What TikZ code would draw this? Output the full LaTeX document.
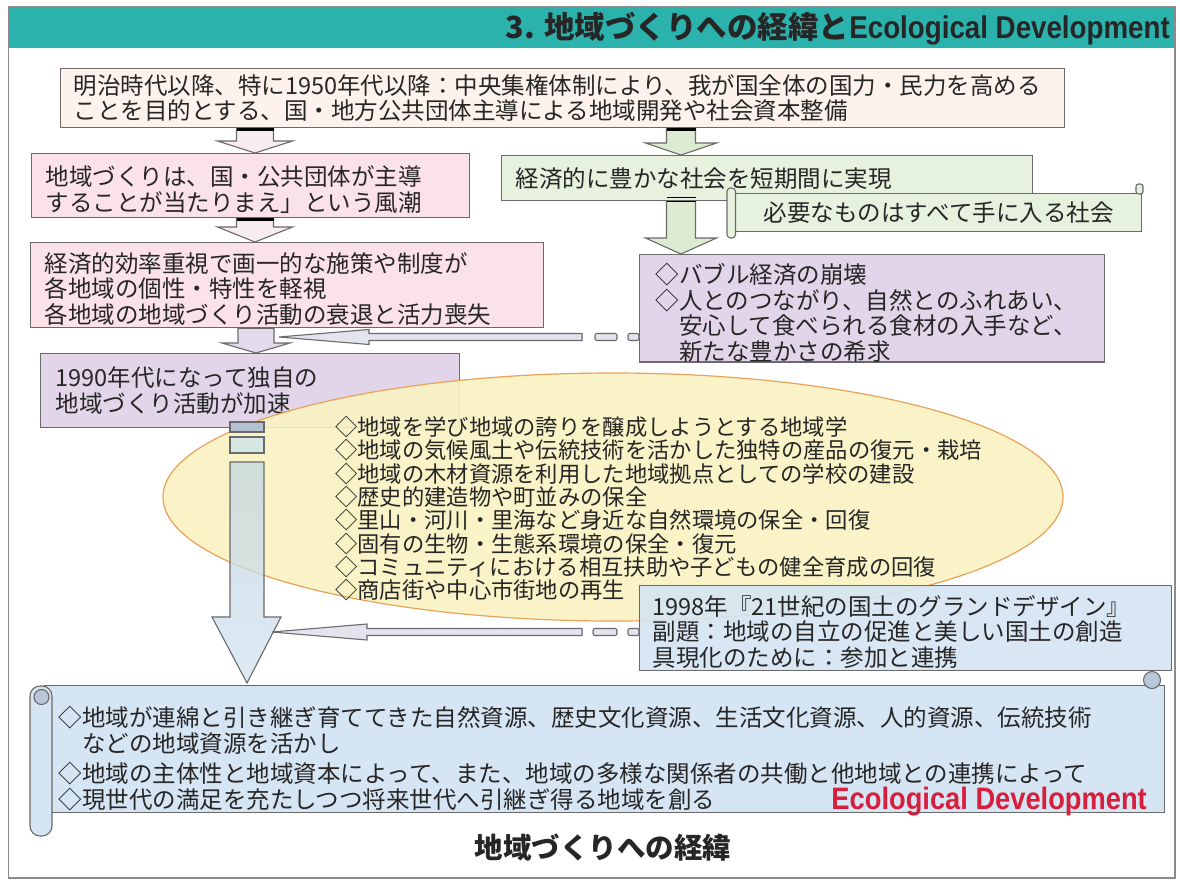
\documentclass[tikz,border=0pt]{standalone}
\usepackage{fontspec}
\usetikzlibrary{shapes.geometric,calc}
\newfontfamily\jp{Noto Sans CJK JP}
\newfontfamily\latn[FakeStretch=0.88]{Liberation Sans}
\definecolor{teal1}{HTML}{2BB2AD}
\definecolor{frm}{HTML}{8A8A8A}
\definecolor{bord}{HTML}{6A6A6A}
\definecolor{txt}{HTML}{262626}
\definecolor{beige}{HTML}{FDF3EC}
\definecolor{pinkb}{HTML}{FBE2E9}
\definecolor{lav}{HTML}{E2D5E9}
\definecolor{grn}{HTML}{E6F1DE}
\definecolor{bluebox}{HTML}{D5E5F3}
\definecolor{yel}{HTML}{FAF2C2}
\definecolor{orng}{HTML}{E8A25A}
\definecolor{redE}{HTML}{D61F3D}
\definecolor{arrpink}{HTML}{F8ECEF}
\definecolor{arrgrn}{HTML}{DDEBD2}
\definecolor{arrlav}{HTML}{E3DAEC}
\definecolor{harr}{HTML}{E4E4EE}
\definecolor{seg1}{HTML}{B5C2D5}
\definecolor{seg2}{HTML}{CFE5EC}
\definecolor{shafttop}{HTML}{C2D6E0}
\definecolor{shaftbot}{HTML}{D3E4F3}
\definecolor{curl}{HTML}{B8C8D8}
\tikzset{
  bx/.style={draw=bord, line width=1.3pt, anchor=north west, align=left,
    inner xsep=13pt, inner ysep=0pt, text=txt,
    font=\jp\fontsize{23.5}{25.5}\selectfont},
  blk/.style={draw=bord, line width=1.1pt},
  harrow/.style={draw=bord, line width=1.1pt, fill=harr},
}
\newcommand\blkarrow[7]{%
  \path[#7] let \p1=(#1,0 |- #2), \p2=(#1,0 |- #3) in
   (\x1-#4pt,\y1) -- (\x1+#4pt,\y1) -- (\x1+#4pt,\y2+#6pt) -- (\x1+#5pt,\y2+#6pt)
   -- (\x1,\y2) -- (\x1-#5pt,\y2+#6pt) -- (\x1-#4pt,\y2+#6pt) -- cycle;}
\newcommand\topgap[1]{\rule{0pt}{#1pt}}
\begin{document}
\begin{tikzpicture}[x=1pt,y=-1pt]
\useasboundingbox (0,0) rectangle (1180,879);
\fill[white] (0,0) rectangle (1180,879);
\draw[frm, line width=1.5pt] (8.5,7) rectangle (1175,878);
% title bar
\node[fill=teal1, minimum width=1165, minimum height=40, anchor=north west, inner sep=0pt] (tb) at (9,8) {};
\node[anchor=east, inner sep=0pt, text=txt, font=\jp\bfseries\fontsize{30.5}{32}\selectfont] (tt) at (1170,29)
  {3. 地域づくりへの経緯と{\latn\fontsize{31.5}{32}\selectfont Ecological Development}};

% boxes
\node[bx, fill=beige, text width=978, minimum height=59] (b1) at (60,68)
  {明治時代以降、特に1950年代以降：中央集権体制により、我が国全体の国力・民力を高める\\ことを目的とする、国・地方公共団体主導による地域開発や社会資本整備};
\node[bx, fill=pinkb, text width=410, inner xsep=14pt, minimum height=64] (b2) at (31,153)
  {\topgap{28}地域づくりは、国・公共団体が主導\\することが当たりまえ」という風潮};
\node[bx, fill=pinkb, text width=485, inner xsep=14pt, minimum height=85] (b3) at (30,242)
  {\topgap{27}経済的効率重視で画一的な施策や制度が\\各地域の個性・特性を軽視\\各地域の地域づくり活動の衰退と活力喪失};
\node[bx, fill=lav, text width=389, inner xsep=15pt, minimum height=74] (b4) at (40,353)
  {1990年代になって独自の\\地域づくり活動が加速};
\node[bx, fill=grn, text width=503, inner xsep=14pt, minimum height=45] (gA) at (501,155)
  {経済的に豊かな社会を短期間に実現};
% green scroll
\node[bx, fill=grn, align=center, text width=380, minimum height=38] (sB) at (735,193)
  {必要なものはすべて手に入る社会};
\draw[blk, fill=grn, rounded corners=3.5pt] (727,188) rectangle (735.5,238);
\draw[blk, fill=grn, rounded corners=2.5pt] (1136,184) rectangle (1143,194);

\node[bx, fill=lav, text width=433, inner xsep=16pt, minimum height=104] (cC) at (639,254)
  {\topgap{29}◇バブル経済の崩壊\\◇人とのつながり、自然とのふれあい、\\\hphantom{◇}安心して食べられる食材の入手など、\\\hphantom{◇}新たな豊かさの希求};

% block arrows
\blkarrow{255}{b1.south}{b2.north}{18.5}{37.5}{12}{blk, fill=arrpink}
\draw[black, line width=3pt] (236.5,129) -- (273.5,129);
\blkarrow{255}{b2.south}{b3.north}{18.5}{37.5}{15}{blk, fill=arrpink}
\draw[black, line width=3pt] (236.5,219) -- (273.5,219);
\blkarrow{256}{b3.south}{b4.north}{18}{34}{10}{blk, fill=arrlav}
\blkarrow{681}{b1.south}{gA.north}{14.5}{35.5}{12}{blk, fill=arrgrn}
\draw[black, line width=3pt] (666.5,129) -- (695.5,129);
\blkarrow{681}{gA.south}{cC.north}{14.5}{35.5}{16}{blk, fill=arrgrn}
\draw[black, line width=1.5pt] (666.5,197.5) -- (695.5,197.5);
\draw[black, line width=1.5pt] (666.5,201.5) -- (695.5,201.5);

% ellipse
\node[ellipse, draw=orng, line width=1.2pt, fill=yel, fill opacity=0.9, minimum width=900, minimum height=248, inner sep=0pt] (ell) at (613,497) {};

% big vertical arrow (over the ellipse, see-through)
\draw[blk, fill=seg1] (230,422) rectangle (264,432);
\draw[blk, fill=seg2, fill opacity=0.8] (230,437) rectangle (264,453);
\coordinate (bigtip) at (247,683);
\path[blk, top color=shafttop, bottom color=shaftbot, fill opacity=0.75] let \p1=(bigtip) in
  (\x1-17pt,-462pt) -- (\x1+17pt,-462pt) -- (\x1+17pt,\y1+66pt) -- (\x1+34pt,\y1+66pt)
  -- (\x1,\y1) -- (\x1-35pt,\y1+66pt) -- (\x1-17pt,\y1+66pt) -- cycle;

\node[anchor=north west, align=left, inner sep=0pt, text=txt, font=\jp\fontsize{22.3}{23.3}\selectfont] (et) at (335,416)
  {◇地域を学び地域の誇りを醸成しようとする地域学\\
   ◇地域の気候風土や伝統技術を活かした独特の産品の復元・栽培\\
   ◇地域の木材資源を利用した地域拠点としての学校の建設\\
   ◇歴史的建造物や町並みの保全\\
   ◇里山・河川・里海など身近な自然環境の保全・回復\\
   ◇固有の生物・生態系環境の保全・復元\\
   ◇コミュニティにおける相互扶助や子どもの健全育成の回復\\
   ◇商店街や中心市街地の再生};

% 1998 box
\node[bx, fill=bluebox, fill opacity=0.9, text opacity=1, text width=506, minimum height=85] (c98) at (639,585)
  {\topgap{27}1998年『21世紀の国土のグランドデザイン』\\副題：地域の自立の促進と美しい国土の創造\\具現化のために：参加と連携};

% horizontal arrows (from right boxes to the main flow)
\coordinate (t1) at (279,337);
\path[harrow] let \p1=(t1), \p2=(cC.west |- t1) in
  (\x1,\y1) -- (\x1+90pt,\y1+7.5pt) -- (\x1+90pt,\y1+3.5pt) -- (\x2-57pt,\y1+3.5pt)
  -- (\x2-57pt,\y1-3.5pt) -- (\x1+90pt,\y1-3.5pt) -- (\x1+90pt,\y1-7.5pt) -- cycle;
\path[harrow, rounded corners=2pt] let \p2=(cC.west |- t1) in
  (\x2-44pt,\y2+3.5pt) rectangle (\x2-22pt,\y2-3.5pt);
\path[harrow, rounded corners=2pt] let \p2=(cC.west |- t1) in
  (\x2-11pt,\y2+3.5pt) rectangle (\x2,\y2-3.5pt);

\coordinate (t2) at (272,632);
\path[harrow] let \p1=(t2), \p2=(c98.west |- t2) in
  (\x1,\y1) -- (\x1+95pt,\y1+8pt) -- (\x1+95pt,\y1+3.5pt) -- (\x2-57pt,\y1+3.5pt)
  -- (\x2-57pt,\y1-3.5pt) -- (\x1+95pt,\y1-3.5pt) -- (\x1+95pt,\y1-8pt) -- cycle;
\path[harrow, rounded corners=2pt] let \p2=(c98.west |- t2) in
  (\x2-46pt,\y2+3.5pt) rectangle (\x2-22pt,\y2-3.5pt);
\path[harrow, rounded corners=2pt] let \p2=(c98.west |- t2) in
  (\x2-11pt,\y2+3.5pt) rectangle (\x2,\y2-3.5pt);

% bottom scroll
\node[bx, fill=bluebox, text width=1092, inner xsep=14pt, minimum height=127] (sc) at (44,685)
  {\topgap{39}◇地域が連綿と引き継ぎ育ててきた自然資源、歴史文化資源、生活文化資源、人的資源、伝統技術\\
   \hphantom{◇}などの地域資源を活かし\\[5pt]
   ◇地域の主体性と地域資本によって、また、地域の多様な関係者の共働と他地域との連携によって\\
   ◇現世代の満足を充たしつつ将来世代へ引継ぎ得る地域を創る};
\draw[blk, fill=bluebox, rounded corners=10pt] (30,686) rectangle (52,836);
\draw[blk, fill=curl] (41.5,697) circle (7.5);
\draw[blk, fill=curl] (1152,680) circle (8.5);
\node[anchor=base east, inner sep=0pt, text height=22pt, text depth=6pt, text=redE, font=\latn\bfseries\fontsize{31}{33}\selectfont] (ed) at (1147,809) {Ecological Development};

\node[inner sep=0pt, text=txt, font=\jp\bfseries\fontsize{28.5}{30}\selectfont] (cap) at (603,848) {地域づくりへの経緯};
\end{tikzpicture}
\end{document}
